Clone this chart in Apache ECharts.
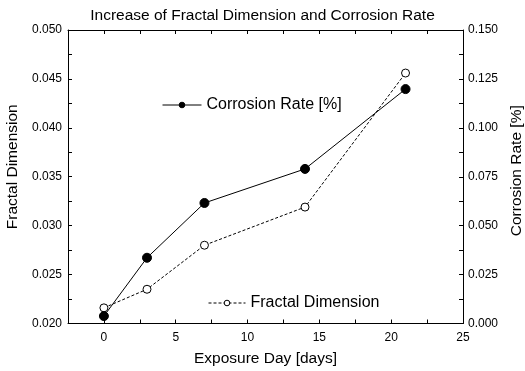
<!DOCTYPE html>
<html>
<head>
<meta charset="utf-8">
<script src="https://cdn.jsdelivr.net/npm/echarts@6/dist/echarts.min.js"></script>
<style>html,body{margin:0;padding:0;background:#fff;}#c{width:525px;height:371px;}</style>
</head>
<body>
<div id="c"></div>
<script>
const days = [0, 3, 7, 14, 21];
const fractalDimension = [0.0216, 0.0235, 0.0280, 0.0319, 0.0456];
const corrosionRate = [0.0038, 0.0336, 0.0616, 0.0790, 0.1198];
const titleText = 'Increase of Fractal Dimension and Corrosion Rate';

const FONT = 'Liberation Sans, Arial, sans-serif';
const chart = echarts.init(document.getElementById('c'));
const near = (v, step) => Math.abs(Math.round(v / step) * step - v) < 1e-9;
const axisLineStyle = { show: true, onZero: false, lineStyle: { color: '#000', width: 1 } };
const tick = { show: true, inside: true, length: 4, lineStyle: { color: '#000' } };

chart.setOption({
  animation: false,
  backgroundColor: '#fff',
  title: {
    text: titleText, left: 'center', top: 8, padding: 0,
    textStyle: { fontFamily: FONT, fontSize: 15.5, fontWeight: 'normal', color: '#000' }
  },
  grid: { left: 68, right: 62, top: 30, bottom: 47.5, containLabel: false, outerBoundsMode: 'none' },
  legend: [
    {
      data: ['Corrosion Rate [%]'], left: 162, top: 97, padding: 0, itemWidth: 39, itemHeight: 7, itemGap: 4,
      lineStyle: { width: 1 }, itemStyle: { borderWidth: 1 },
      textStyle: { fontFamily: FONT, fontSize: 16, color: '#000', padding: [0, 0, 0, 0] }
    },
    {
      data: ['Fractal Dimension'], left: 208, top: 295, padding: 0, itemWidth: 37, itemHeight: 7,
      lineStyle: { width: 1 }, itemStyle: { borderWidth: 1 },
      textStyle: { fontFamily: FONT, fontSize: 16, color: '#000', padding: [0, 0, 0, 0] }
    }
  ],
  xAxis: [
    {
      type: 'value', min: -2.5, max: 25, interval: 2.5, position: 'bottom',
      name: 'Exposure Day [days]', nameLocation: 'middle', nameGap: 27,
      nameTextStyle: { fontFamily: FONT, fontSize: 15.5, color: '#000' },
      axisLine: axisLineStyle, axisTick: tick, splitLine: { show: false },
      axisLabel: {
        fontFamily: FONT, fontSize: 12, color: '#000', margin: 8,
        formatter: v => (v >= 0 && near(v, 5)) ? String(Math.round(v)) : ''
      }
    },
    {
      type: 'value', min: -2.5, max: 25, interval: 2.5, position: 'top',
      axisLine: axisLineStyle, axisTick: tick, splitLine: { show: false },
      axisLabel: { show: false }
    }
  ],
  yAxis: [
    {
      type: 'value', min: 0.02, max: 0.05, interval: 0.0025, position: 'left',
      name: 'Fractal Dimension', nameLocation: 'middle', nameGap: 44,
      nameTextStyle: { fontFamily: FONT, fontSize: 15.5, color: '#000', padding: [0, 0, 0, 20] },
      axisLine: axisLineStyle, axisTick: tick, splitLine: { show: false },
      axisLabel: {
        fontFamily: FONT, fontSize: 12, color: '#000', margin: 6,
        formatter: v => near(v, 0.005) ? v.toFixed(3) : ''
      }
    },
    {
      type: 'value', min: 0, max: 0.15, interval: 0.0125, position: 'right',
      name: 'Corrosion Rate [%]', nameLocation: 'middle', nameGap: 46,
      nameTextStyle: { fontFamily: FONT, fontSize: 15.5, color: '#000', padding: [0, 0, 0, 12] },
      axisLine: axisLineStyle, axisTick: tick, splitLine: { show: false },
      axisLabel: {
        fontFamily: FONT, fontSize: 12, color: '#000', margin: 5,
        formatter: v => near(v, 0.025) ? v.toFixed(3) : ''
      }
    }
  ],
  series: [
    {
      name: 'Fractal Dimension', type: 'line', xAxisIndex: 0, yAxisIndex: 0,
      data: days.map((d, i) => [d, fractalDimension[i]]),
      symbol: 'circle', symbolSize: 8,
      lineStyle: { color: '#000', width: 1, type: [3, 2] },
      itemStyle: { color: '#fff', borderColor: '#000', borderWidth: 1 }
    },
    {
      name: 'Corrosion Rate [%]', type: 'line', xAxisIndex: 0, yAxisIndex: 1,
      data: days.map((d, i) => [d, corrosionRate[i]]),
      symbol: 'circle', symbolSize: 9,
      lineStyle: { color: '#000', width: 1 },
      itemStyle: { color: '#000', borderColor: '#000', borderWidth: 1 }
    }
  ]
});
</script>
</body>
</html>
